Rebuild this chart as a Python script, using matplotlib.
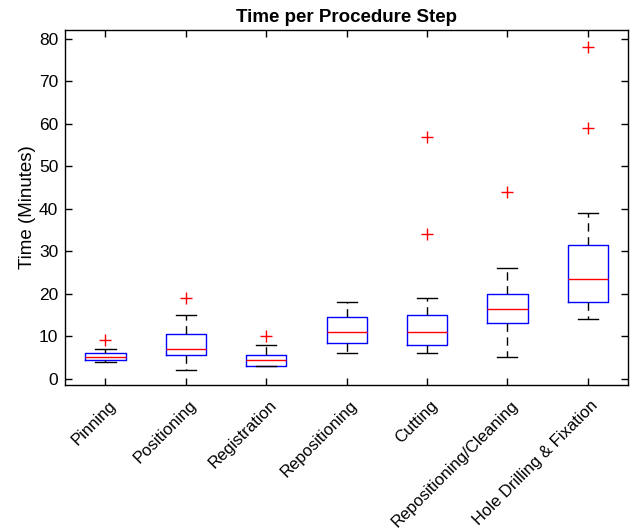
import matplotlib
matplotlib.use("Agg")
import matplotlib.pyplot as plt
from matplotlib.transforms import ScaledTranslation, blended_transform_factory

plt.rcParams['font.family'] = ['Liberation Sans', 'DejaVu Sans']

categories = ["Pinning", "Positioning", "Registration", "Repositioning",
              "Cutting", "Repositioning/Cleaning", "Hole Drilling & Fixation"]
whisker_low = [4, 2, 3, 6, 6, 5, 14]
q1 = [4.5, 5.5, 3, 8.5, 8, 13, 18]
median = [5, 7, 4.5, 11, 11, 16.5, 23.5]
q3 = [6, 10.5, 5.5, 14.5, 15, 20, 31.5]
whisker_high = [7, 15, 8, 18, 19, 26, 39]
outliers = [[9], [19], [10], [], [34, 57], [44], [59, 78]]
yticks = [0, 10, 20, 30, 40, 50, 60, 70, 80]

stats = []
for i, name in enumerate(categories):
    stats.append(dict(label=name, whislo=whisker_low[i], q1=q1[i], med=median[i],
                      q3=q3[i], whishi=whisker_high[i], fliers=outliers[i]))

fig = plt.figure(figsize=(6.35, 5.3), dpi=100)
ax = fig.add_axes([0.1028, 0.2736, 0.989 - 0.1028, 0.9434 - 0.2736])

positions = list(range(1, len(categories) + 1))
ax.bxp(stats, positions=positions, widths=0.5, showfliers=True,
       boxprops=dict(color='#0000ff', linewidth=1.0),
       medianprops=dict(color='#ff0000', linewidth=1.0),
       whiskerprops=dict(color='black', linewidth=1.0, linestyle=(0, (6, 4))),
       capprops=dict(color='black', linewidth=1.0),
       flierprops=dict(marker='+', markeredgecolor='#ff0000', markersize=9,
                       markeredgewidth=1.0, linestyle='none'),
       capwidths=0.25)

ax.set_xlim(0.5, 7.5)
ax.set_ylim(-1.48, 82.1)
ax.set_yticks(yticks)
ax.set_xticks(positions)
ax.set_xticklabels([])
trans = blended_transform_factory(ax.transData, ax.transAxes) + \
    ScaledTranslation(8 / 100, -18 / 100, fig.dpi_scale_trans)
for p, name in zip(positions, categories):
    ax.text(p, 0, name, transform=trans, rotation=45, ha='right', va='center',
            rotation_mode='anchor', fontsize=12)
ax.tick_params(axis='both', direction='in', top=True, right=True, length=5,
               width=1)
ax.tick_params(axis='y', labelsize=12.5, pad=5)
for s in ax.spines.values():
    s.set_linewidth(1.0)
ax.set_ylabel("Time (Minutes)", fontsize=13.5, labelpad=2)
ax.set_title("Time per Procedure Step", fontsize=13.5, fontweight='bold', pad=6)

fig.savefig("out.png", dpi=100)
